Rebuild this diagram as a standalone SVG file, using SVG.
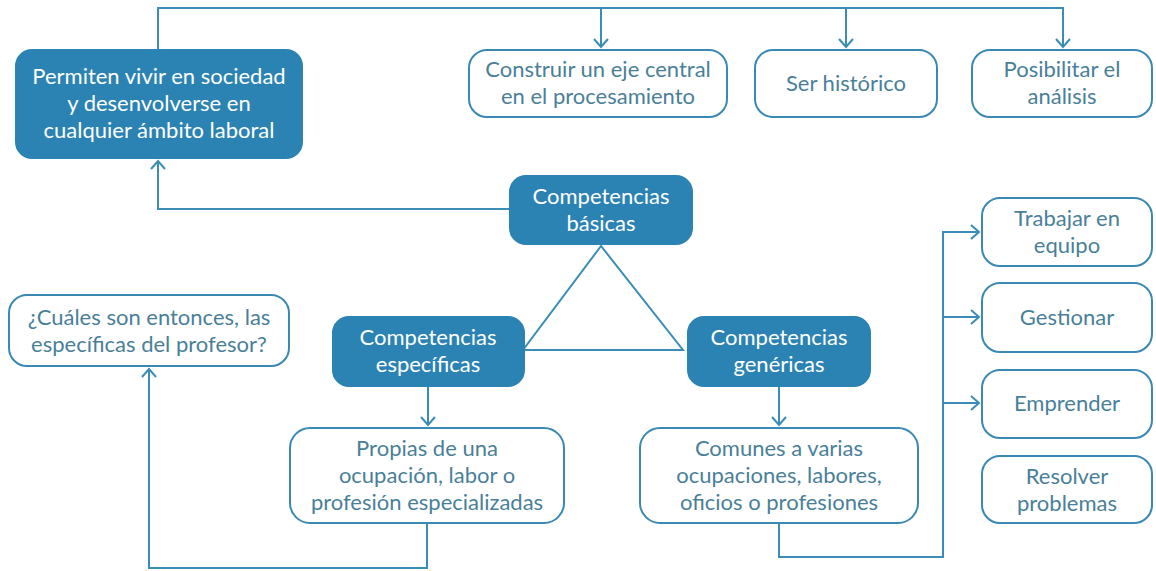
<svg xmlns="http://www.w3.org/2000/svg" width="1156" height="571" viewBox="0 0 1156 571">
  <style>
    .fill rect { fill: #2b83b3; stroke: #2b83b3; stroke-width: 2; }
    .fill text { fill: #ffffff; }
    .out rect { fill: #ffffff; stroke: #3a88b4; stroke-width: 2; }
    .out text { fill: #4a7f99; }
    text { font-family: Lato, "Open Sans", "Liberation Sans", sans-serif; font-size: 22px; text-anchor: middle; }
    .conn path, .conn polygon { fill: none; stroke: #3a8db6; stroke-width: 2; }
  </style>
  <defs>
    <marker id="arr" viewBox="-10 -10 20 20" markerWidth="20" markerHeight="20" refX="0" refY="0" orient="auto" markerUnits="userSpaceOnUse">
      <path d="M-8,-7 L0,0 L-8,7" fill="none" stroke="#3a8db6" stroke-width="2"/>
    </marker>
  </defs>
  <rect width="1156" height="571" fill="#ffffff"/>

  <g class="conn" id="connectors">
    <path d="M158,50 V8 H1063 V47" marker-end="url(#arr)"/>
    <path d="M601,8 V47" marker-end="url(#arr)"/>
    <path d="M846,8 V47" marker-end="url(#arr)"/>
    <path d="M510,209 H158 V161" marker-end="url(#arr)"/>
    <polygon points="601,246 523,350 683,350"/>
    <path d="M428,386 V425" marker-end="url(#arr)"/>
    <path d="M427,523 V568 H149 V369" marker-end="url(#arr)"/>
    <path d="M779,386 V425" marker-end="url(#arr)"/>
    <path d="M779,523 V557 H943 V232 H979" marker-end="url(#arr)"/>
    <path d="M943,317 H979" marker-end="url(#arr)"/>
    <path d="M943,403 H979" marker-end="url(#arr)"/>
  </g>

  <g id="permiten" class="fill">
    <rect x="16" y="50" width="286" height="108" rx="16"/>
    <text x="159" y="84">Permiten vivir en sociedad</text>
    <text x="159" y="111">y desenvolverse en</text>
    <text x="159" y="138">cualquier ámbito laboral</text>
  </g>
  <g id="construir" class="out">
    <rect x="469" y="50" width="258" height="67" rx="18"/>
    <text x="598" y="77">Construir un eje central</text>
    <text x="598" y="104">en el procesamiento</text>
  </g>
  <g id="historico" class="out">
    <rect x="755" y="50" width="182" height="67" rx="18"/>
    <text x="846" y="91">Ser histórico</text>
  </g>
  <g id="posibilitar" class="out">
    <rect x="972" y="50" width="180" height="67" rx="18"/>
    <text x="1062" y="77">Posibilitar el</text>
    <text x="1062" y="104">análisis</text>
  </g>
  <g id="basicas" class="fill">
    <rect x="510" y="176" width="182" height="68" rx="16"/>
    <text x="601" y="204">Competencias</text>
    <text x="601" y="231">básicas</text>
  </g>
  <g id="cuales" class="out">
    <rect x="9" y="295" width="280" height="71" rx="18"/>
    <text x="149" y="325">¿Cuáles son entonces, las</text>
    <text x="149" y="352">específicas del profesor?</text>
  </g>
  <g id="especificas" class="fill">
    <rect x="333" y="317" width="191" height="69" rx="16"/>
    <text x="428" y="345">Competencias</text>
    <text x="428" y="372">específicas</text>
  </g>
  <g id="genericas" class="fill">
    <rect x="688" y="317" width="182" height="69" rx="16"/>
    <text x="779" y="345">Competencias</text>
    <text x="779" y="372">genéricas</text>
  </g>
  <g id="propias" class="out">
    <rect x="290" y="428" width="274" height="95" rx="20"/>
    <text x="427" y="456">Propias de una</text>
    <text x="427" y="483">ocupación, labor o</text>
    <text x="427" y="510">profesión especializadas</text>
  </g>
  <g id="comunes" class="out">
    <rect x="640" y="428" width="278" height="95" rx="20"/>
    <text x="779" y="456">Comunes a varias</text>
    <text x="779" y="483">ocupaciones, labores,</text>
    <text x="779" y="510">oficios o profesiones</text>
  </g>
  <g id="trabajar" class="out">
    <rect x="982" y="198" width="170" height="68" rx="18"/>
    <text x="1067" y="226">Trabajar en</text>
    <text x="1067" y="253">equipo</text>
  </g>
  <g id="gestionar" class="out">
    <rect x="982" y="283" width="170" height="69" rx="18"/>
    <text x="1067" y="325">Gestionar</text>
  </g>
  <g id="emprender" class="out">
    <rect x="982" y="370" width="170" height="68" rx="18"/>
    <text x="1067" y="411">Emprender</text>
  </g>
  <g id="resolver" class="out">
    <rect x="982" y="456" width="170" height="67" rx="18"/>
    <text x="1067" y="484">Resolver</text>
    <text x="1067" y="511">problemas</text>
  </g>
</svg>
